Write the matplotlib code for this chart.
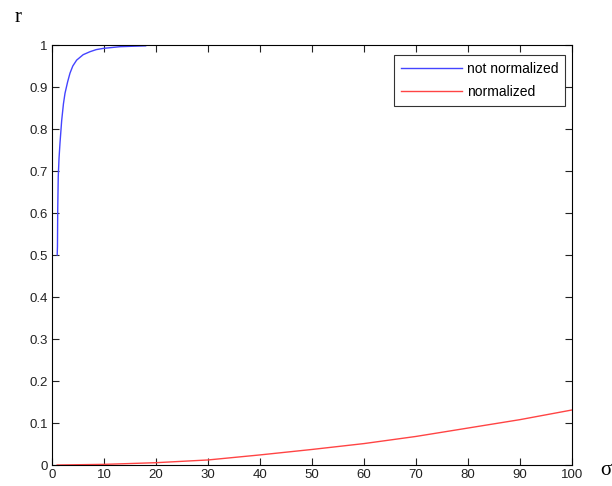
import matplotlib
matplotlib.use("Agg")
import matplotlib.pyplot as plt

plt.rcParams['font.family'] = ['Liberation Sans', 'DejaVu Sans']

sigma_nn = [1, 1.05, 1.1, 1.2, 1.35, 1.54, 1.86, 2.2, 2.5, 3.0, 3.46, 4.0, 4.74,
            6.0, 7.3, 8.5, 9.9, 11.5, 13.1, 15.5, 18]
r_nn = [0.5, 0.52, 0.607, 0.686, 0.73, 0.767, 0.82, 0.86, 0.885, 0.912, 0.933,
        0.95, 0.964, 0.977, 0.984, 0.989, 0.992, 0.994, 0.996, 0.997, 0.998]

sigma_n = [1, 10, 20, 30, 40, 50, 60, 70, 80, 90, 100]
r_n = [0.0, 0.0015, 0.0055, 0.012, 0.024, 0.037, 0.051, 0.068, 0.088, 0.108, 0.131]

xticks = [0, 10, 20, 30, 40, 50, 60, 70, 80, 90, 100]
yticks = [0, 0.1, 0.2, 0.3, 0.4, 0.5, 0.6, 0.7, 0.8, 0.9, 1]
ytick_labels = ["0", "0.1", "0.2", "0.3", "0.4", "0.5", "0.6", "0.7", "0.8", "0.9", "1"]

fig = plt.figure(figsize=(6.12, 4.86), dpi=100)
ax = fig.add_axes([52/612, 21/486, 520/612, 420/486])

ax.plot(sigma_nn, r_nn, color="#4444ff", lw=1.0, label="not normalized")
ax.plot(sigma_n, r_n, color="#ff4444", lw=1.0, label="normalized")

ax.set_xlim(0, 100)
ax.set_ylim(0, 1)
ax.set_xticks(xticks)
ax.set_yticks(yticks)
ax.set_yticklabels(ytick_labels)
ax.tick_params(direction="in", top=True, right=True, length=5, width=0.8,
               labelsize=9.5, pad=3, colors="#222222")
for s in ax.spines.values():
    s.set_linewidth(0.8)

leg = ax.legend(loc="upper right", bbox_to_anchor=(565/612, 1 - 55/486),
                bbox_transform=fig.transFigure, fontsize=10, frameon=True,
                fancybox=False, edgecolor="black", handlelength=4.4,
                borderaxespad=0, labelspacing=0.65, handletextpad=0.35,
                borderpad=0.5)
leg.get_frame().set_linewidth(0.8)

fig.text(15/612, 1 - 17/486, "r", family="Liberation Serif", fontsize=15,
         ha="left", va="center")
fig.text(600/612, 1 - 470/486, "σ", family="Liberation Serif", fontsize=15,
         ha="left", va="center")

fig.savefig("out.png", dpi=100)
